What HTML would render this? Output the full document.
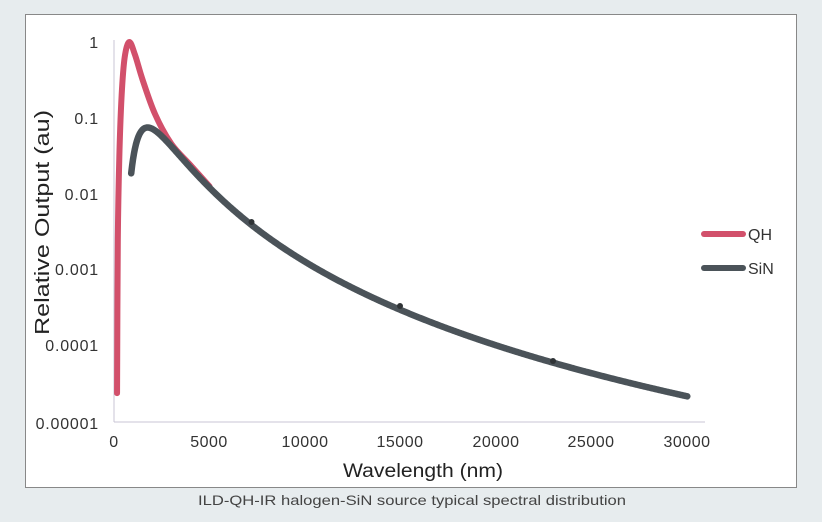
<!DOCTYPE html>
<html><head><meta charset="utf-8"><style>
html,body{margin:0;padding:0;background:#e7ecee;width:822px;height:522px;overflow:hidden}
svg{display:block;font-family:"Liberation Sans",sans-serif}
</style></head><body>
<svg id="s" width="822" height="522" xmlns="http://www.w3.org/2000/svg">
<rect x="25.5" y="14.5" width="771" height="473" fill="#fff" stroke="#888" stroke-width="1"/>
<line x1="114" y1="40" x2="114" y2="422" stroke="#c8c4d4" stroke-width="1"/>
<line x1="114" y1="422" x2="705" y2="422" stroke="#c8c4d4" stroke-width="1"/>
<g font-size="16" fill="#333" text-anchor="end" letter-spacing="0.8">
<text x="99" y="48">1</text>
<text x="99" y="124">0.1</text>
<text x="99" y="200">0.01</text>
<text x="99" y="275">0.001</text>
<text x="99" y="351">0.0001</text>
<text x="99" y="429">0.00001</text>
</g>
<g font-size="16" fill="#333" text-anchor="middle" letter-spacing="0.5">
<text x="114" y="447">0</text>
<text x="209" y="447">5000</text>
<text x="305" y="447">10000</text>
<text x="400" y="447">15000</text>
<text x="496" y="447">20000</text>
<text x="591" y="447">25000</text>
<text x="687" y="447">30000</text>
</g>
<text x="343" y="477" font-size="19" fill="#222" textLength="160" lengthAdjust="spacingAndGlyphs">Wavelength (nm)</text>
<text transform="translate(49,335) rotate(-90)" font-size="20" fill="#222" textLength="225" lengthAdjust="spacingAndGlyphs">Relative Output (au)</text>
<text x="198" y="505" font-size="14" fill="#444" textLength="428" lengthAdjust="spacingAndGlyphs">ILD-QH-IR halogen-SiN source typical spectral distribution</text>
<path id="qh" fill="none" stroke="#d2506b" stroke-width="6" stroke-linecap="round" stroke-linejoin="round"/>
<path id="sin" fill="none" stroke="#4b5359" stroke-width="6.5" stroke-linecap="round" stroke-linejoin="round"/>
<g fill="#2f3336"><circle cx="251.5" cy="222" r="3"/><circle cx="400" cy="306" r="3"/><circle cx="553" cy="361" r="3"/></g>
<line x1="704" y1="234" x2="743" y2="234" stroke="#d2506b" stroke-width="6" stroke-linecap="round"/>
<line x1="704" y1="268" x2="743" y2="268" stroke="#4b5359" stroke-width="6" stroke-linecap="round"/>
<text x="748" y="240" font-size="16" fill="#333">QH</text>
<text x="748" y="274" font-size="16" fill="#333">SiN</text>
</svg>
<script>
function X(w){return 114+w*0.01911;}
function Y(v){return 42-76*Math.log10(v);}
function B(l,T){return Math.pow(l,-5)/(Math.exp(14388/(l*T))-1);}
function build(T,peak,l0,l1,n){
 var pk=2898/T,bp=B(pk,T),d="";
 for(var i=0;i<=n;i++){var l=l0+(l1-l0)*i/n;var v=peak*B(l,T)/bp;
  d+=(i?"L":"M")+X(l*1000).toFixed(2)+","+Y(v).toFixed(2);}
 return d;}
var cp=[[160,-4.62],[200,-2.6],[280,-1.5],[400,-0.7],[560,-0.2],[800,0],[1100,-0.17],[1500,-0.5],[2150,-0.95],[3000,-1.34],[4000,-1.62],[5000,-1.9]];
var P=cp.map(function(c){return [X(c[0]),42-76*c[1]];});
var d="M"+P[0][0]+","+P[0][1];
for(var i=0;i<P.length-1;i++){
 var p0=P[Math.max(0,i-1)],p1=P[i],p2=P[i+1],p3=P[Math.min(P.length-1,i+2)];
 var c1=[p1[0]+(p2[0]-p0[0])/6,p1[1]+(p2[1]-p0[1])/6],c2=[p2[0]-(p3[0]-p1[0])/6,p2[1]-(p3[1]-p1[1])/6];
 d+="C"+c1[0].toFixed(2)+","+c1[1].toFixed(2)+" "+c2[0].toFixed(2)+","+c2[1].toFixed(2)+" "+p2[0].toFixed(2)+","+p2[1].toFixed(2);}
document.getElementById("qh").setAttribute("d",d);
document.getElementById("sin").setAttribute("d",build(1650,0.075,0.9,30,600));
</script>
</body></html>
